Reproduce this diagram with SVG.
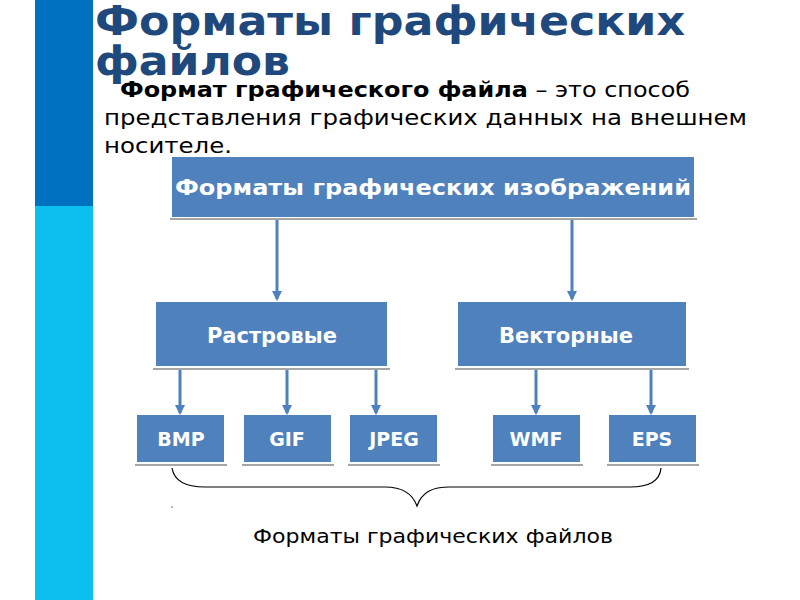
<svg xmlns="http://www.w3.org/2000/svg" width="800" height="600" viewBox="0 0 800 600">
<defs>
<style>
.box{fill:#4F81BD}
.sh{stroke:#A6A6A6;stroke-width:2}
.lbl{fill:#FFFFFF;font-family:"DejaVu Sans",sans-serif;font-weight:bold;text-anchor:middle}
.conn{stroke:#4F81BD;stroke-width:3;fill:none;marker-end:url(#ah)}
.txt{font-family:"DejaVu Sans",sans-serif;fill:#000}
</style>
<marker id="ah" viewBox="0 0 10 10" refX="8" refY="5" markerWidth="3.5" markerHeight="3.5" orient="auto" markerUnits="strokeWidth">
<path d="M0,0 L10,5 L0,10 z" fill="#4F81BD"/>
</marker>
</defs>
<rect width="800" height="600" fill="#FFFFFF"/>
<rect x="35" y="0" width="58" height="206" fill="#0070C0"/>
<rect x="35" y="206" width="58" height="394" fill="#0BC0EE"/>
<g id="title" font-family="DejaVu Sans,sans-serif" font-weight="bold" fill="#1F497D" font-size="40">
<text x="95" y="35" textLength="590" lengthAdjust="spacingAndGlyphs">Форматы графических</text>
<text x="95" y="75" textLength="195" lengthAdjust="spacingAndGlyphs">файлов</text>
</g>
<g id="definition" class="txt" font-size="21">
<text x="120" y="97" textLength="570" lengthAdjust="spacingAndGlyphs"><tspan font-weight="bold">Формат графического файла</tspan> – это способ</text>
<text x="104" y="125" textLength="643" lengthAdjust="spacingAndGlyphs">представления графических данных на внешнем</text>
<text x="104" y="153" textLength="128" lengthAdjust="spacingAndGlyphs">носителе.</text>
</g>
<g id="connectors">
<line class="conn" x1="277" y1="219" x2="277" y2="299"/>
<line class="conn" x1="572" y1="219" x2="572" y2="299"/>
<line class="conn" x1="180" y1="370" x2="180" y2="413"/>
<line class="conn" x1="287" y1="370" x2="287" y2="413"/>
<line class="conn" x1="376" y1="370" x2="376" y2="413"/>
<line class="conn" x1="536" y1="370" x2="536" y2="413"/>
<line class="conn" x1="651" y1="370" x2="651" y2="413"/>
</g>
<g id="node-root">
<rect class="box" x="172" y="157" width="522" height="60"/>
<line class="sh" x1="170" y1="219" x2="697" y2="219"/>
<text class="lbl" x="433" y="195" font-size="22" textLength="516" lengthAdjust="spacingAndGlyphs">Форматы графических изображений</text>
</g>
<g id="node-raster">
<rect class="box" x="156" y="302" width="231" height="64"/>
<line class="sh" x1="153" y1="369" x2="390" y2="369"/>
<text class="lbl" x="272" y="343" font-size="21">Растровые</text>
</g>
<g id="node-vector">
<rect class="box" x="458" y="302" width="228" height="64"/>
<line class="sh" x1="455" y1="369" x2="689" y2="369"/>
<text class="lbl" x="566" y="343" font-size="21">Векторные</text>
</g>
<g id="node-bmp">
<rect class="box" x="137" y="415" width="87" height="47"/>
<line class="sh" x1="135" y1="465" x2="227" y2="465"/>
<text class="lbl" x="181" y="446" font-size="19">BMP</text>
</g>
<g id="node-gif">
<rect class="box" x="244" y="415" width="87" height="47"/>
<line class="sh" x1="242" y1="465" x2="334" y2="465"/>
<text class="lbl" x="287" y="446" font-size="19">GIF</text>
</g>
<g id="node-jpeg">
<rect class="box" x="350" y="415" width="87" height="47"/>
<line class="sh" x1="348" y1="465" x2="440" y2="465"/>
<text class="lbl" x="394" y="446" font-size="19">JPEG</text>
</g>
<g id="node-wmf">
<rect class="box" x="493" y="415" width="87" height="47"/>
<line class="sh" x1="491" y1="465" x2="583" y2="465"/>
<text class="lbl" x="536" y="446" font-size="19">WMF</text>
</g>
<g id="node-eps">
<rect class="box" x="609" y="415" width="87" height="47"/>
<line class="sh" x1="607" y1="465" x2="699" y2="465"/>
<text class="lbl" x="652" y="446" font-size="19">EPS</text>
</g>
<g id="brace">
<path d="M172,468 C174,480 185,487 205,487 L385,487 C400,487 412,492 417,506 C422,492 432,487 450,487 L630,487 C650,487 660,480 661,468" fill="none" stroke="#000" stroke-width="1.2"/>
<circle cx="172" cy="507" r="0.8" fill="#555"/>
</g>
<g id="caption">
<text class="txt" x="433" y="543" font-size="19" text-anchor="middle" textLength="360" lengthAdjust="spacingAndGlyphs">Форматы графических файлов</text>
</g>
</svg>
